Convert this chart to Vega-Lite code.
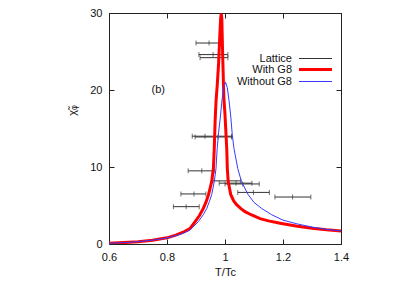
{
  "$schema": "https://vega.github.io/schema/vega-lite/v6.json",
  "width": 232,
  "height": 231,
  "autosize": {"type": "none"},
  "padding": {"left": 109, "top": 13, "right": 74, "bottom": 47},
  "background": "white",
  "config": {
    "view": {"stroke": "#222", "strokeWidth": 1},
    "font": "Liberation Sans",
    "axis": {
      "grid": false,
      "domain": false,
      "ticks": true,
      "tickColor": "#222",
      "tickWidth": 1,
      "labelColor": "#111",
      "titleColor": "#111",
      "labelFont": "Liberation Sans",
      "titleFont": "Liberation Sans",
      "labelFontSize": 11,
      "titleFontSize": 11,
      "titleFontWeight": "normal",
      "labelFlush": false,
      "tickSize": 5,
      "offset": -5
    },
    "legend": {"labelFont": "Liberation Sans", "labelFontSize": 11, "labelColor": "#111"}
  },
  "datasets": {
    "lattice": [
      {"series": "Lattice", "T": 0.945, "lo": 0.900, "hi": 0.991, "chi": 26.1},
      {"series": "Lattice", "T": 0.959, "lo": 0.910, "hi": 1.010, "chi": 24.6},
      {"series": "Lattice", "T": 0.993, "lo": 0.914, "hi": 1.010, "chi": 24.2},
      {"series": "Lattice", "T": 0.931, "lo": 0.887, "hi": 1.023, "chi": 14.0},
      {"series": "Lattice", "T": 0.976, "lo": 0.897, "hi": 1.023, "chi": 13.9},
      {"series": "Lattice", "T": 0.920, "lo": 0.873, "hi": 0.963, "chi": 9.5},
      {"series": "Lattice", "T": 1.011, "lo": 0.958, "hi": 1.054, "chi": 8.2},
      {"series": "Lattice", "T": 1.038, "lo": 0.980, "hi": 1.093, "chi": 7.9},
      {"series": "Lattice", "T": 1.061, "lo": 1.000, "hi": 1.118, "chi": 7.8},
      {"series": "Lattice", "T": 1.098, "lo": 1.044, "hi": 1.153, "chi": 6.7},
      {"series": "Lattice", "T": 0.893, "lo": 0.848, "hi": 0.934, "chi": 6.5},
      {"series": "Lattice", "T": 1.233, "lo": 1.172, "hi": 1.296, "chi": 6.1},
      {"series": "Lattice", "T": 0.866, "lo": 0.822, "hi": 0.911, "chi": 4.85}
    ],
    "curves": [
      {"series": "With G8", "T": 0.60, "chi": 0.1},
      {"series": "With G8", "T": 0.65, "chi": 0.18},
      {"series": "With G8", "T": 0.70, "chi": 0.3},
      {"series": "With G8", "T": 0.75, "chi": 0.5},
      {"series": "With G8", "T": 0.80, "chi": 0.8},
      {"series": "With G8", "T": 0.83, "chi": 1.15},
      {"series": "With G8", "T": 0.86, "chi": 1.6},
      {"series": "With G8", "T": 0.879, "chi": 2.0},
      {"series": "With G8", "T": 0.897, "chi": 2.9},
      {"series": "With G8", "T": 0.912, "chi": 3.7},
      {"series": "With G8", "T": 0.925, "chi": 4.6},
      {"series": "With G8", "T": 0.935, "chi": 5.5},
      {"series": "With G8", "T": 0.943, "chi": 6.4},
      {"series": "With G8", "T": 0.949, "chi": 7.3},
      {"series": "With G8", "T": 0.954, "chi": 8.1},
      {"series": "With G8", "T": 0.960, "chi": 9.8},
      {"series": "With G8", "T": 0.963, "chi": 12.4},
      {"series": "With G8", "T": 0.966, "chi": 16.0},
      {"series": "With G8", "T": 0.969, "chi": 18.5},
      {"series": "With G8", "T": 0.973, "chi": 20.5},
      {"series": "With G8", "T": 0.978, "chi": 23.5},
      {"series": "With G8", "T": 0.982, "chi": 27.0},
      {"series": "With G8", "T": 0.985, "chi": 29.3},
      {"series": "With G8", "T": 0.987, "chi": 29.9},
      {"series": "With G8", "T": 0.989, "chi": 29.3},
      {"series": "With G8", "T": 0.992, "chi": 24.5},
      {"series": "With G8", "T": 0.996, "chi": 19.0},
      {"series": "With G8", "T": 1.000, "chi": 16.8},
      {"series": "With G8", "T": 1.006, "chi": 12.4},
      {"series": "With G8", "T": 1.008, "chi": 9.8},
      {"series": "With G8", "T": 1.011, "chi": 8.1},
      {"series": "With G8", "T": 1.020, "chi": 6.4},
      {"series": "With G8", "T": 1.030, "chi": 5.6},
      {"series": "With G8", "T": 1.040, "chi": 5.1},
      {"series": "With G8", "T": 1.055, "chi": 4.6},
      {"series": "With G8", "T": 1.069, "chi": 4.2},
      {"series": "With G8", "T": 1.090, "chi": 3.8},
      {"series": "With G8", "T": 1.121, "chi": 3.3},
      {"series": "With G8", "T": 1.150, "chi": 3.0},
      {"series": "With G8", "T": 1.190, "chi": 2.7},
      {"series": "With G8", "T": 1.250, "chi": 2.3},
      {"series": "With G8", "T": 1.300, "chi": 2.05},
      {"series": "With G8", "T": 1.350, "chi": 1.85},
      {"series": "With G8", "T": 1.400, "chi": 1.7},
      {"series": "Without G8", "T": 0.60, "chi": 0.1},
      {"series": "Without G8", "T": 0.65, "chi": 0.18},
      {"series": "Without G8", "T": 0.70, "chi": 0.3},
      {"series": "Without G8", "T": 0.75, "chi": 0.5},
      {"series": "Without G8", "T": 0.80, "chi": 0.78},
      {"series": "Without G8", "T": 0.85, "chi": 1.3},
      {"series": "Without G8", "T": 0.879, "chi": 1.8},
      {"series": "Without G8", "T": 0.908, "chi": 2.9},
      {"series": "Without G8", "T": 0.925, "chi": 3.8},
      {"series": "Without G8", "T": 0.937, "chi": 4.6},
      {"series": "Without G8", "T": 0.946, "chi": 5.5},
      {"series": "Without G8", "T": 0.954, "chi": 6.4},
      {"series": "Without G8", "T": 0.963, "chi": 8.1},
      {"series": "Without G8", "T": 0.969, "chi": 9.8},
      {"series": "Without G8", "T": 0.973, "chi": 12.4},
      {"series": "Without G8", "T": 0.978, "chi": 14.5},
      {"series": "Without G8", "T": 0.984, "chi": 16.5},
      {"series": "Without G8", "T": 0.990, "chi": 18.8},
      {"series": "Without G8", "T": 0.996, "chi": 20.4},
      {"series": "Without G8", "T": 1.002, "chi": 21.0},
      {"series": "Without G8", "T": 1.008, "chi": 20.3},
      {"series": "Without G8", "T": 1.014, "chi": 18.6},
      {"series": "Without G8", "T": 1.020, "chi": 16.5},
      {"series": "Without G8", "T": 1.025, "chi": 14.2},
      {"series": "Without G8", "T": 1.031, "chi": 12.4},
      {"series": "Without G8", "T": 1.044, "chi": 9.8},
      {"series": "Without G8", "T": 1.057, "chi": 8.1},
      {"series": "Without G8", "T": 1.080, "chi": 6.4},
      {"series": "Without G8", "T": 1.100, "chi": 5.4},
      {"series": "Without G8", "T": 1.127, "chi": 4.6},
      {"series": "Without G8", "T": 1.161, "chi": 3.8},
      {"series": "Without G8", "T": 1.200, "chi": 3.1},
      {"series": "Without G8", "T": 1.250, "chi": 2.6},
      {"series": "Without G8", "T": 1.300, "chi": 2.2},
      {"series": "Without G8", "T": 1.350, "chi": 1.9},
      {"series": "Without G8", "T": 1.400, "chi": 1.7}
    ]
  },
  "resolve": {"axis": {"x": "independent", "y": "independent"}},
  "layer": [
    {
      "encoding": {
        "x": {"type": "quantitative", "scale": {"domain": [0.6, 1.4], "nice": false, "zero": false},
              "axis": {"values": [0.6, 0.8, 1, 1.2, 1.4], "format": "~g", "title": "T/Tc", "labelPadding": 7, "titleY": 27, "titleBaseline": "top"}},
        "y": {"type": "quantitative", "scale": {"domain": [0, 30], "nice": false},
              "axis": {"values": [0, 10, 20, 30], "title": "χ̃ᵩ", "labelPadding": 7, "titleX": -42, "titleY": 97, "titleAngle": -90, "titleBaseline": "middle", "titleAlign": "center"}}
      },
      "layer": [
        {
          "data": {"name": "lattice"},
          "mark": {"type": "rule", "strokeWidth": 1},
          "encoding": {
            "x": {"field": "lo", "type": "quantitative"},
            "x2": {"field": "hi"},
            "y": {"field": "chi", "type": "quantitative"},
            "color": {"field": "series", "type": "nominal",
                      "scale": {"domain": ["Lattice", "With G8", "Without G8"], "range": ["#333333", "#ff0000", "#3a3aff"]},
                      "legend": {"title": null, "orient": "none", "legendX": 201, "legendY": 40, "symbolType": "stroke",
                                 "symbolSize": 1089, "symbolStrokeWidth": {"expr": "datum.value === 'With G8' ? 3 : 1"},
                                 "labelAlign": "right", "labelOffset": -29, "padding": 0, "rowPadding": -20}}
          }
        },
        {
          "data": {"name": "lattice"},
          "mark": {"type": "tick", "orient": "vertical", "size": 5, "thickness": 1, "color": "#333333"},
          "encoding": {"x": {"field": "lo", "type": "quantitative"}, "y": {"field": "chi", "type": "quantitative"}}
        },
        {
          "data": {"name": "lattice"},
          "mark": {"type": "tick", "orient": "vertical", "size": 5, "thickness": 1, "color": "#333333"},
          "encoding": {"x": {"field": "hi", "type": "quantitative"}, "y": {"field": "chi", "type": "quantitative"}}
        },
        {
          "data": {"name": "lattice"},
          "mark": {"type": "tick", "orient": "vertical", "size": 5, "thickness": 1, "color": "#333333"},
          "encoding": {"x": {"field": "T", "type": "quantitative"}, "y": {"field": "chi", "type": "quantitative"}}
        },
        {
          "data": {"name": "curves"},
          "transform": [{"filter": "datum.series === 'With G8'"}],
          "mark": {"type": "line", "clip": true, "strokeWidth": 3},
          "encoding": {
            "x": {"field": "T", "type": "quantitative"},
            "y": {"field": "chi", "type": "quantitative"},
            "color": {"field": "series", "type": "nominal"}
          }
        },
        {
          "data": {"name": "curves"},
          "transform": [{"filter": "datum.series === 'Without G8'"}],
          "mark": {"type": "line", "clip": true, "strokeWidth": 1},
          "encoding": {
            "x": {"field": "T", "type": "quantitative"},
            "y": {"field": "chi", "type": "quantitative"},
            "color": {"field": "series", "type": "nominal"}
          }
        },
        {
          "data": {"values": [{}]},
          "mark": {"type": "text", "text": "(b)", "fontSize": 11, "color": "#111", "font": "Liberation Sans"},
          "encoding": {"x": {"datum": 0.77}, "y": {"datum": 20}}
        }
      ]
    },
    {
      "data": {"name": "lattice"},
      "mark": {"type": "point", "opacity": 0},
      "encoding": {
        "x": {"field": "T", "type": "quantitative", "axis": {"orient": "top", "values": [0.6, 0.8, 1, 1.2, 1.4], "labels": false, "title": null}},
        "y": {"field": "chi", "type": "quantitative", "axis": {"orient": "right", "values": [0, 10, 20, 30], "labels": false, "title": null}}
      }
    }
  ]
}
